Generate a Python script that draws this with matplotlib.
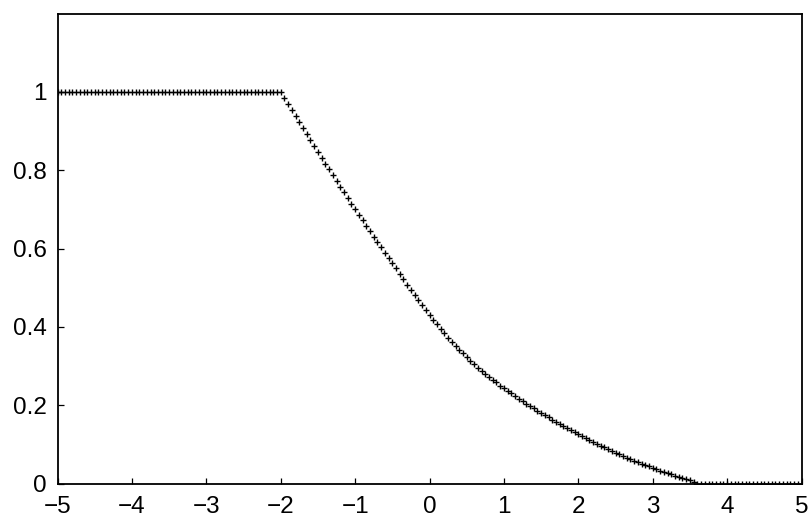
import numpy as np
import matplotlib
matplotlib.use("Agg")
import matplotlib.pyplot as plt

plt.rcParams['font.family'] = ['Liberation Sans', 'DejaVu Sans']

# sample grid (step 0.05 from -5 to 5)
x_vals = np.round(np.linspace(-5, 5, 201), 2)

flat_top = [1.0] * 60  # x = -5.00 ... -2.05
slope_part = [
    1.000, 0.984, 0.969, 0.953, 0.938,
    0.922, 0.907, 0.892, 0.876, 0.861,
    0.846, 0.831, 0.816, 0.802, 0.787,
    0.772, 0.758, 0.743, 0.729, 0.714,
    0.700, 0.686, 0.672, 0.658, 0.644,
    0.630, 0.616, 0.603, 0.589, 0.576,
    0.562, 0.549, 0.535, 0.522, 0.508,
    0.495, 0.482, 0.469, 0.456, 0.443,
    0.430, 0.418, 0.406, 0.394, 0.383,
    0.372, 0.362, 0.352, 0.342, 0.332,
    0.322, 0.313, 0.305, 0.296, 0.288,
    0.280, 0.273, 0.265, 0.258, 0.250,
    0.243, 0.236, 0.230, 0.223, 0.217,
    0.210, 0.204, 0.198, 0.192, 0.186,
    0.180, 0.174, 0.169, 0.163, 0.158,
    0.152, 0.147, 0.142, 0.136, 0.131,
    0.126, 0.121, 0.116, 0.111, 0.106,
    0.101, 0.097, 0.092, 0.088, 0.083,
    0.079, 0.075, 0.071, 0.066, 0.062,
    0.058, 0.054, 0.051, 0.047, 0.044,
    0.040, 0.037, 0.033, 0.030, 0.026,
    0.023, 0.020, 0.017, 0.014, 0.011,
    0.008, 0.004, 0.000,
]  # x = -2.00 ... 3.60
flat_bottom = [0.0] * 28  # x = 3.65 ... 5.00
y_vals = np.array(flat_top + slope_part + flat_bottom)

x_ticks = [-5, -4, -3, -2, -1, 0, 1, 2, 3, 4, 5]
y_ticks = [0, 0.2, 0.4, 0.6, 0.8, 1]
y_ticklabels = ['0', '0.2', '0.4', '0.6', '0.8', '1']

fig = plt.figure(figsize=(8.11, 5.2), dpi=100)
ax = fig.add_axes([57.5 / 811, 36.5 / 520, 744 / 811, 470 / 520])

ax.plot(x_vals, y_vals, linestyle='none', marker='+', color='black',
        markersize=4.8, markeredgewidth=1.0)

ax.set_xlim(-5, 5)
ax.set_ylim(0, 1.2)
ax.set_xticks(x_ticks)
ax.set_xticklabels([str(t).replace('-', '\u2212') for t in x_ticks])
ax.set_yticks(y_ticks)
ax.set_yticklabels(y_ticklabels)

for s in ax.spines.values():
    s.set_linewidth(1.3)
    s.set_color('black')

ax.tick_params(axis='both', direction='in', length=4.5, width=0.9,
               labelsize=17.5, colors='black')
ax.tick_params(axis='x', pad=9)
ax.tick_params(axis='y', pad=8)

fig.savefig('out.png', dpi=100)
